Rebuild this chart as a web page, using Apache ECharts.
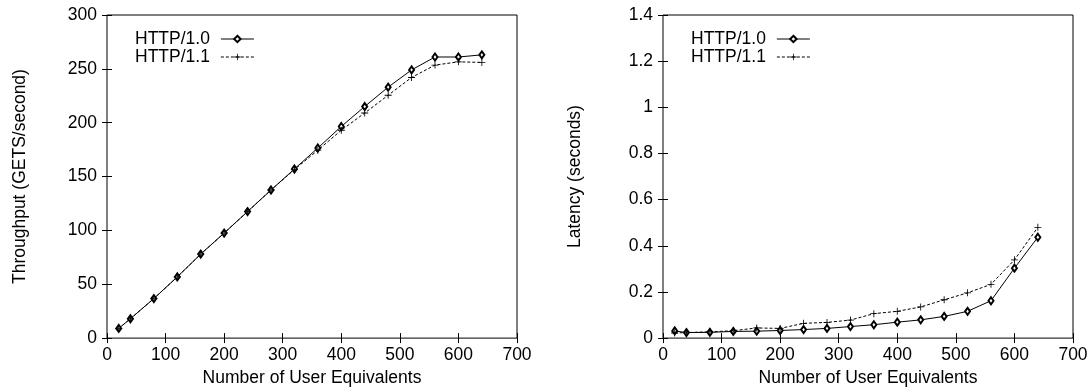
<!DOCTYPE html>
<html>
<head>
<meta charset="utf-8">
<script src="https://cdn.jsdelivr.net/npm/echarts@6/dist/echarts.min.js"></script>
<style>
  html, body { margin: 0; padding: 0; background: #fff; }
  #chart { width: 1091px; height: 392px; }
</style>
</head>
<body>
<div id="chart"></div>
<script>
// user equivalents (x) shared by both panels
const users = [20, 40, 80, 120, 160, 200, 240, 280, 320, 360, 400, 440, 480, 520, 560, 600, 640]

// throughput, GETS/second
const thru10 = [9, 18, 36.7, 56.8, 78, 97.5, 117.5, 137.5, 157, 176.5, 196.5, 215, 233, 249, 261, 261, 263]
const thru11 = [9, 18, 36.7, 56.8, 78, 97.5, 117.5, 137.5, 156.5, 174.5, 193, 209, 225.5, 242, 253.5, 256.5, 256]

// latency, seconds
const lat10 = [0.031, 0.024, 0.025, 0.029, 0.03, 0.033, 0.037, 0.042, 0.05, 0.058, 0.069, 0.079, 0.094, 0.116, 0.162, 0.303, 0.437]
const lat11 = [0.022, 0.024, 0.027, 0.032, 0.044, 0.042, 0.064, 0.068, 0.078, 0.106, 0.116, 0.135, 0.166, 0.196, 0.233, 0.339, 0.48]

const xTicks = { min: 0, max: 700, interval: 100 }
const thruTicks = { min: 0, max: 300, interval: 50 }
const latTicks = { min: 0, max: 1.4, interval: 0.2 }

const FONT = '"Liberation Sans", Arial, Helvetica, sans-serif'
const FS = 17.5
const PLUS = 'path://M4.4,0 L5.6,0 L5.6,4.4 L10,4.4 L10,5.6 L5.6,5.6 L5.6,10 L4.4,10 L4.4,5.6 L0,5.6 L0,4.4 L4.4,4.4 Z'

function pairs(xs, ys) {
  return xs.map((x, i) => [x, ys[i]])
}

function xAxisFor(grid, mirror) {
  return {
    type: 'value',
    gridIndex: grid,
    position: mirror ? 'top' : 'bottom',
    ...xTicks,
    name: mirror ? '' : 'Number of User Equivalents',
    nameLocation: 'middle',
    nameGap: 25,
    nameTextStyle: { color: '#000', fontSize: FS, fontFamily: FONT },
    axisLine: { show: false },
    axisTick: { show: true, inside: true, length: 5, lineStyle: { color: '#000' } },
    axisLabel: { show: !mirror, color: '#000', fontSize: FS, fontFamily: FONT, margin: 8 },
    splitLine: { show: false },
  }
}

function yAxisFor(grid, ticks, title, gap, mirror) {
  return {
    type: 'value',
    gridIndex: grid,
    position: mirror ? 'right' : 'left',
    ...ticks,
    name: mirror ? '' : title,
    nameLocation: 'middle',
    nameRotate: 90,
    nameGap: gap,
    nameTextStyle: { color: '#000', fontSize: FS, fontFamily: FONT },
    axisLine: { show: false },
    axisTick: { show: true, inside: true, length: 5, lineStyle: { color: '#000' } },
    axisLabel: { show: !mirror, color: '#000', fontSize: FS, fontFamily: FONT, margin: 10 },
    splitLine: { show: false },
  }
}

function lineSeries(name, grid, data, dashed) {
  return {
    name,
    type: 'line',
    xAxisIndex: grid * 2,
    yAxisIndex: grid * 2,
    data,
    symbol: dashed ? PLUS : 'emptyDiamond',
    symbolSize: dashed ? 7 : [5, 7],
    showAllSymbol: true,
    animation: false,
    lineStyle: { color: '#000', width: 1, type: dashed ? [3, 2] : 'solid' },
    itemStyle: { color: '#000', borderWidth: dashed ? 0 : 0.8 },
  }
}

function legendAt(left) {
  return {
    left,
    top: 30,
    padding: 0,
    orient: 'vertical',
    align: 'right',
    itemWidth: 33,
    itemHeight: 8,
    itemGap: 0,
    selectedMode: false,
    lineStyle: { width: 1 },
    textStyle: { color: '#000', fontSize: FS, fontFamily: FONT, lineHeight: 18, padding: [0, 6, 0, 0] },
    data: ['HTTP/1.0', 'HTTP/1.1'],
  }
}

const chart = echarts.init(document.getElementById('chart'))
chart.setOption({
  backgroundColor: '#fff',
  animation: false,
  textStyle: { fontFamily: FONT },
  legend: [legendAt(135), legendAt(691)],
  grid: [
    { left: 107, top: 15, width: 410, height: 329, show: true, borderColor: '#000', borderWidth: 1 },
    { left: 663, top: 15, width: 410, height: 329, show: true, borderColor: '#000', borderWidth: 1 },
  ],
  xAxis: [xAxisFor(0, false), xAxisFor(0, true), xAxisFor(1, false), xAxisFor(1, true)],
  yAxis: [
    yAxisFor(0, thruTicks, 'Throughput (GETS/second)', 78, false),
    yAxisFor(0, thruTicks, '', 0, true),
    yAxisFor(1, latTicks, 'Latency (seconds)', 79, false),
    yAxisFor(1, latTicks, '', 0, true),
  ],
  series: [
    lineSeries('HTTP/1.0', 0, pairs(users, thru10), false),
    lineSeries('HTTP/1.1', 0, pairs(users, thru11), true),
    lineSeries('HTTP/1.0', 1, pairs(users, lat10), false),
    lineSeries('HTTP/1.1', 1, pairs(users, lat11), true),
  ],
})
</script>
</body>
</html>
